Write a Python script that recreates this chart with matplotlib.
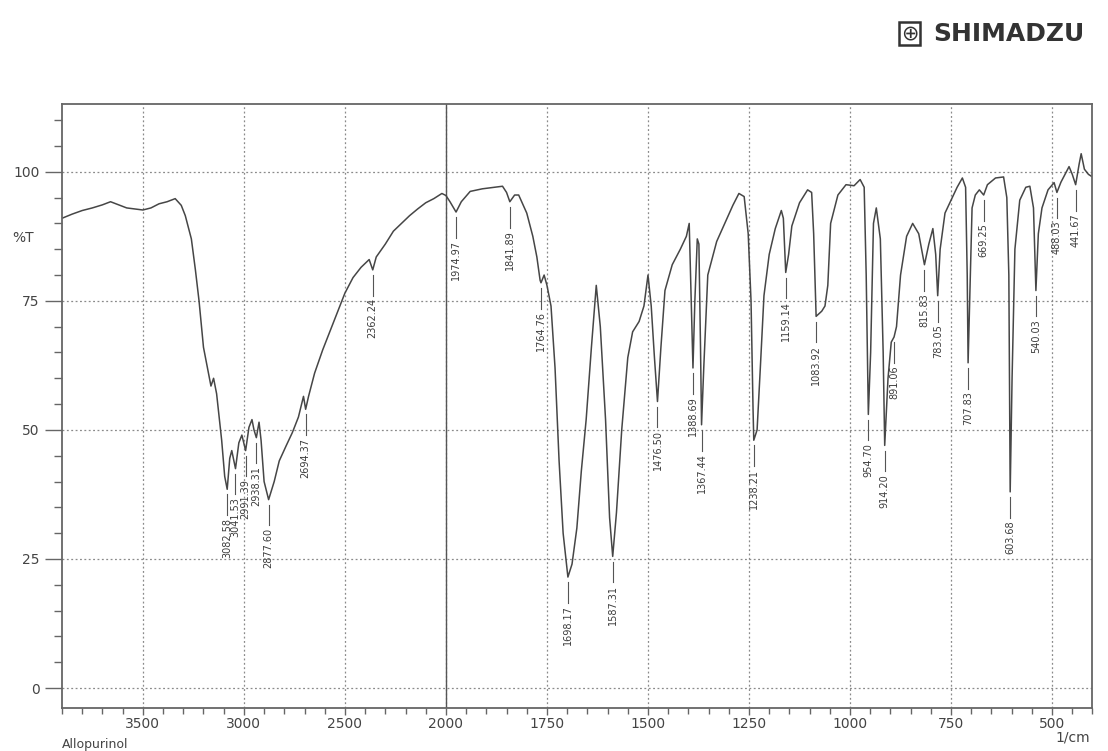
import numpy as np
import matplotlib
matplotlib.use("Agg")
import matplotlib.pyplot as plt
from matplotlib.ticker import FixedLocator, NullFormatter

# spectrum (wavenumber in 1/cm, transmittance in %T)
WAVENUMBER = [3900, 3850, 3800, 3750, 3700, 3660, 3620, 3580, 3540, 3500,
              3460, 3420, 3380, 3340, 3310, 3290, 3260, 3240, 3222, 3200,
              3180, 3163, 3150, 3135, 3110, 3095, 3082.58, 3070, 3060, 3041.53,
              3025, 3010, 2991.39, 2975, 2960, 2950, 2938.31, 2925, 2915, 2900,
              2877.60, 2850, 2825, 2790, 2760, 2730, 2705, 2694.37, 2680, 2650,
              2610, 2570, 2540, 2500, 2460, 2420, 2380, 2362.24, 2345, 2300,
              2260, 2220, 2180, 2140, 2100, 2060, 2020, 2000, 1990, 1974.97,
              1962, 1940, 1910, 1880, 1860, 1850, 1841.89, 1830, 1820, 1800,
              1785, 1775, 1767, 1764.76, 1757, 1750, 1740, 1730, 1720, 1710,
              1698.17, 1688, 1676, 1665, 1653, 1640, 1628, 1618, 1605, 1595,
              1587.31, 1578, 1565, 1550, 1538, 1522, 1510, 1500, 1492, 1484,
              1476.50, 1468, 1458, 1440, 1420, 1405, 1398, 1393, 1388.69, 1384,
              1378, 1374, 1370, 1367.44, 1362, 1352, 1330, 1310, 1290, 1275,
              1262, 1252, 1245, 1240, 1238.21, 1230, 1222, 1213, 1200, 1185,
              1170, 1165, 1159.14, 1152, 1144, 1125, 1105, 1095, 1090, 1083.92,
              1070, 1062, 1055, 1048, 1030, 1010, 990, 975, 965, 960,
              954.70, 949, 942, 935, 925, 918, 914.20, 906, 898, 891.06,
              885, 875, 860, 845, 830, 815.83, 805, 795, 788, 783.05,
              777, 765, 750, 735, 722, 714, 710, 707.83, 704, 698,
              690, 680, 669.25, 660, 640, 620, 612, 607, 603.68, 599,
              592, 580, 565, 555, 546, 540.03, 534, 525, 510, 495,
              488.03, 478, 468, 458, 450, 441.67, 433, 428, 420, 410, 400]
TRANSMITTANCE = [91.0, 91.8, 92.5, 93.0, 93.6, 94.2, 93.6, 93.0, 92.8, 92.6,
                 93.0, 93.8, 94.2, 94.8, 93.5, 91.5, 87.0, 81.0, 75.0, 66.0,
                 62.0, 58.5, 60.0, 57.0, 48.0, 41.0, 38.5, 44.5, 46.0, 42.5,
                 47.5, 49.0, 46.0, 50.5, 52.0, 50.0, 48.5, 51.5, 48.0, 40.0,
                 36.5, 40.0, 44.0, 47.0, 49.5, 52.5, 56.5, 54.0, 56.5, 61.0,
                 65.5, 69.5, 72.5, 76.5, 79.5, 81.5, 83.0, 81.0, 83.5, 86.0,
                 88.5, 90.0, 91.5, 92.8, 94.0, 94.8, 95.8, 95.4, 94.2, 92.2,
                 94.2, 96.2, 96.7, 97.0, 97.2, 96.0, 94.2, 95.5, 95.5, 92.0,
                 87.5, 83.5, 79.0, 78.5, 80.0, 78.0, 74.0, 62.0, 44.0, 30.0,
                 21.5, 24.0, 31.0, 42.0, 52.0, 66.0, 78.0, 70.0, 52.0, 33.0,
                 25.5, 34.0, 50.0, 64.0, 69.0, 71.0, 74.0, 80.0, 74.0, 64.0,
                 55.5, 66.0, 77.0, 82.0, 85.0, 87.5, 90.0, 75.0, 62.0, 75.0,
                 87.0, 86.0, 66.0, 51.0, 62.0, 80.0, 86.5, 90.0, 93.5, 95.8,
                 95.2, 88.0, 75.0, 54.0, 48.0, 50.0, 62.0, 76.0, 84.0, 89.0,
                 92.5, 91.0, 80.5, 84.0, 89.5, 94.0, 96.5, 96.0, 88.0, 72.0,
                 73.0, 74.0, 78.0, 90.0, 95.5, 97.5, 97.3, 98.5, 97.0, 80.0,
                 53.0, 65.0, 90.0, 93.0, 87.0, 65.0, 47.0, 60.0, 67.0, 68.0,
                 70.0, 80.0, 87.5, 90.0, 88.0, 82.0, 86.0, 89.0, 84.0, 76.0,
                 85.0, 92.0, 94.5, 97.0, 98.8, 97.0, 80.0, 63.0, 75.0, 93.0,
                 95.5, 96.5, 95.5, 97.5, 98.8, 99.0, 95.0, 80.0, 38.0, 60.0,
                 85.0, 94.5, 97.0, 97.2, 93.0, 77.0, 88.0, 93.0, 96.5, 97.9,
                 96.0, 98.0, 99.5, 101.0, 99.5, 97.5, 101.5, 103.5, 100.5, 99.5, 99.0]

PEAKS = [3082.58, 3041.53, 2991.39, 2938.31, 2877.60, 2694.37, 2362.24,
         1974.97, 1841.89, 1764.76, 1698.17, 1587.31, 1476.50, 1388.69,
         1367.44, 1238.21, 1159.14, 1083.92, 954.70, 914.20, 891.06,
         815.83, 783.05, 707.83, 669.25, 603.68, 540.03, 488.03, 441.67]

X_MAJOR = [3500, 3000, 2500, 2000, 1750, 1500, 1250, 1000, 750, 500]
Y_MAJOR = [0, 25, 50, 75, 100]


def forward(w):
    """ Shimadzu chart paper: 4000-2000 at half the scale of 2000-400 """
    w = np.asarray(w, dtype=float)
    return np.where(w >= 2000, w / 500.0, w / 250.0 - 4.0)


def inverse(u):
    u = np.asarray(u, dtype=float)
    return np.where(u >= 4, u * 500.0, (u + 4.0) * 250.0)


fig = plt.figure(figsize=(11.08, 7.51), dpi=100)
ax = fig.add_axes([0.056, 0.057, 0.930, 0.805])
ax.set_xscale('function', functions=(forward, inverse))
ax.set_xlim(3900, 400)
ax.set_ylim(-3.9, 113.2)

# grid and the solid 2000 line
ax.xaxis.set_major_locator(FixedLocator(X_MAJOR))
ax.yaxis.set_major_locator(FixedLocator(Y_MAJOR))
minor_x = list(range(3900, 2000, -100)) + list(range(1950, 399, -50))
ax.xaxis.set_minor_locator(FixedLocator(minor_x))
ax.yaxis.set_minor_locator(FixedLocator(list(range(0, 111, 5))))
ax.xaxis.set_minor_formatter(NullFormatter())
ax.grid(which='major', linestyle=(0, (1.5, 2)), color='#8a8a8a', linewidth=0.9)
ax.axvline(2000, color='#555555', linewidth=1.0)

# spectrum
ax.plot(WAVENUMBER, TRANSMITTANCE, color='#464646', linewidth=1.1)

# peak labels hanging under each band
wn_inc = WAVENUMBER[::-1]
tr_inc = TRANSMITTANCE[::-1]
for p in PEAKS:
    t = np.interp(p, wn_inc, tr_inc)
    ax.plot([p, p], [t - 1.0, t - 5.0], color='#555555', linewidth=0.8)
    ax.text(p, t - 5.5, f'{p:.2f}', rotation=90, ha='center', va='top',
            fontsize=7, color='#3c3c3c')

# axes styling
for s in ax.spines.values():
    s.set_color('#666666')
    s.set_linewidth(1.3)
ax.tick_params(axis='y', which='major', direction='out', length=12,
               width=1.0, color='#666666', labelsize=10, labelcolor='#444444', pad=4)
ax.tick_params(axis='y', which='minor', direction='out', length=6,
               width=1.0, color='#666666')
ax.tick_params(axis='x', which='major', direction='out', length=5,
               width=1.0, color='#666666', labelsize=10, labelcolor='#444444', pad=1)
ax.tick_params(axis='x', which='minor', direction='out', length=4,
               width=1.0, color='#666666')
ax.set_xticklabels([str(v) for v in X_MAJOR])

fig.text(0.011, 0.683, '%T', fontsize=10, color='#444444', va='center')
fig.text(0.984, 0.008, '1/cm', fontsize=10, color='#444444', ha='right', va='bottom')
fig.text(0.056, 0.0, 'Allopurinol', fontsize=9, color='#444444', va='bottom')

# instrument logo
fig.text(0.813, 0.955, '\u2295', fontsize=15, color='#333333', va='center',
         bbox=dict(boxstyle='square,pad=0.08', fc='none', ec='#333333', lw=1.8))
fig.text(0.842, 0.955, 'SHIMADZU', fontsize=18, fontweight='bold',
         color='#333333', va='center')

fig.savefig('out.png', dpi=100, facecolor='white')
